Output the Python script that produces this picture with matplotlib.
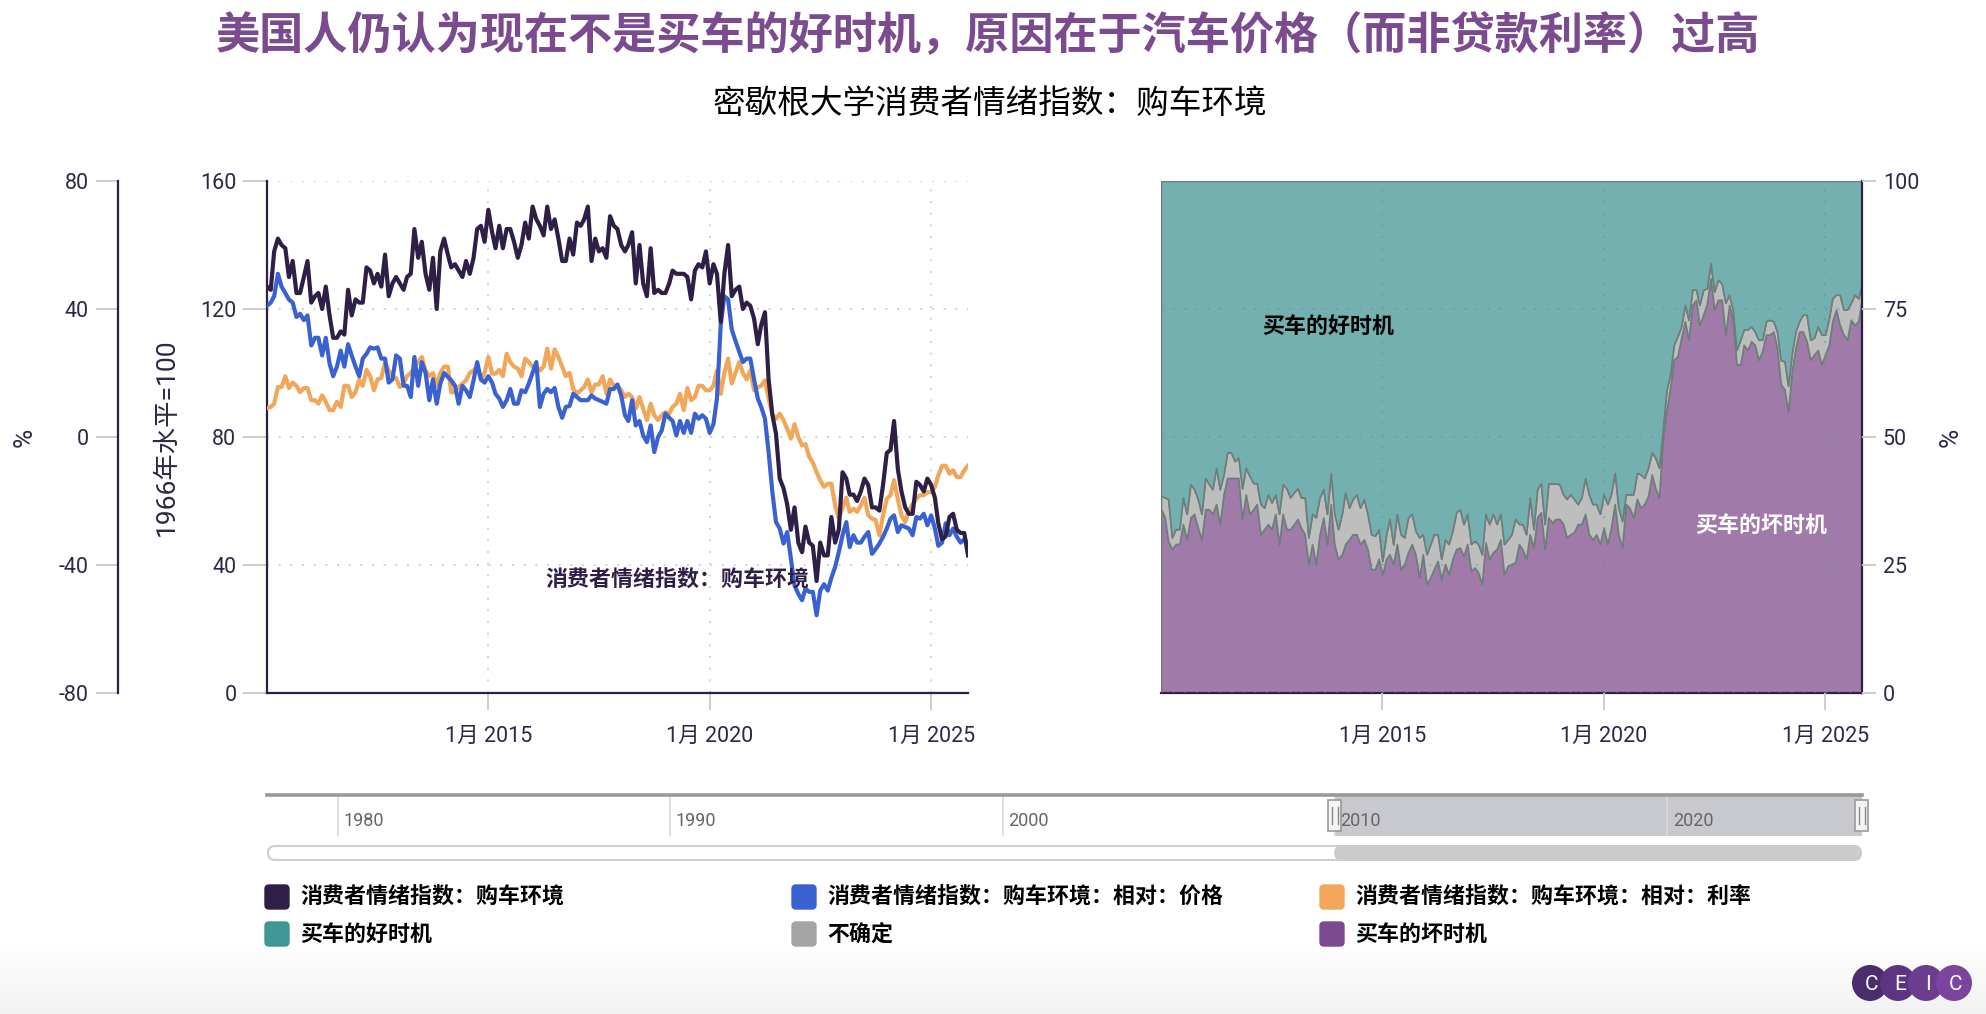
import numpy as np
import pandas as pd
import matplotlib
matplotlib.use('Agg')
import matplotlib.pyplot as plt
from matplotlib.patches import FancyBboxPatch, Rectangle, Circle

plt.rcParams['font.family'] = ['Roboto', 'Noto Sans CJK SC', 'DejaVu Sans']
plt.rcParams['axes.unicode_minus'] = False

# ---------------- data (monthly, Jan 2010 - Nov 2025) ----------------
start_month = '2010-01-01'

buying_conditions = [
    127, 126, 138, 142, 140, 139, 130, 135, 125, 125, 130, 135,
    122, 124, 125, 120, 127, 118, 111, 111, 113, 112, 126, 118,
    123, 122, 122, 133, 132, 128, 131, 127, 137, 124, 128, 130,
    128, 126, 130, 131, 145, 136, 141, 131, 126, 136, 120, 138,
    142, 137, 133, 134, 132, 130, 135, 131, 136, 145, 146, 141,
    151, 144, 139, 146, 139, 145, 145, 141, 136, 140, 147, 142,
    152, 148, 146, 143, 152, 145, 148, 142, 135, 135, 142, 137,
    147, 146, 148, 152, 135, 142, 138, 139, 136, 149, 146, 145,
    140, 138, 140, 144, 128, 140, 128, 124, 139, 125, 126, 125,
    125, 128, 132, 131, 131, 131, 130, 123, 132, 134, 133, 138,
    128, 134, 131, 116, 131, 140, 124, 126, 127, 120, 122, 121,
    117, 109, 115, 119, 98, 87, 81, 67, 64, 59, 51, 58,
    47, 44, 52, 47, 46, 35, 47, 43, 43, 55, 47, 51,
    69, 67, 62, 62, 60, 63, 67, 65, 58, 58, 57, 65,
    75, 76, 85, 70, 63, 58, 56, 56, 66, 65, 63, 67,
    65, 61, 53, 48, 49, 55, 56, 51, 50, 50, 43,
]

rel_prices = [
    121, 122, 124, 131, 127, 125, 123, 122, 117.5, 118.5, 116.5, 118,
    108.6, 111, 111, 105.5, 111, 103, 99, 102, 107, 102, 109, 105.5,
    102, 99, 104.5, 106, 108, 107.6, 108, 104.5, 104.5, 97, 98, 105.5,
    104.5, 96, 96, 92.5, 105, 96, 103.4, 100, 91.5, 98, 90.4, 96.7,
    100, 98.8, 97.7, 96, 90.4, 96, 94.6, 92.5, 97.7, 103.4, 98, 97,
    99, 97, 93.5, 92, 89.4, 91.5, 95, 90.4, 90.4, 94.6, 94, 96.7,
    100, 103.4, 89.4, 93.5, 95, 94, 95.3, 89.4, 86, 89.4, 89.7, 93.5,
    92.5, 91.5, 91.5, 91.5, 93, 92, 91.5, 91, 90.4, 95, 95, 96.4,
    93, 86.8, 85, 91.5, 83.6, 85, 80.5, 78.4, 83.6, 75.3, 80, 82,
    87.3, 86, 85, 80.5, 85, 81.3, 85, 81.3, 87.3, 85.7, 86.8, 85.7,
    81.3, 84, 92, 115, 124, 123, 113.6, 110, 106.6, 103.4, 104.5, 104.5,
    98, 92, 89.4, 85.7, 75.3, 62.8, 53.4, 51.4, 46.7, 50.3, 42, 33.6,
    31, 29, 32.6, 31.6, 31.6, 24.3, 32, 34, 32, 36, 39.4, 44,
    49.3, 53.4, 45.6, 49.3, 47, 47, 48.8, 50.3, 43.5, 45, 46.7, 48.8,
    51.4, 54.5, 55.5, 50.3, 52.4, 51.9, 51.4, 49.3, 55, 54.5, 56, 52.4,
    55.5, 51.4, 46, 47, 53, 49.3, 51.4, 48.8, 47, 48, 46.7,
]

rel_rates = [
    89, 89.4, 90.4, 95.6, 95.6, 99, 95.3, 97, 96, 94, 95.3, 95.3,
    91.5, 91.5, 90.4, 93, 91, 88.4, 88.4, 91, 89.4, 96, 96, 92.5,
    94, 98, 96, 101, 99, 94.6, 98, 98.4, 103.4, 100.8, 99, 98.4,
    95.6, 96.7, 99, 100, 102, 103.4, 105, 100.8, 99, 100, 96, 100,
    102, 102, 94, 94, 95.6, 96.7, 97.7, 100, 100.8, 102, 97.7, 100,
    105, 99.8, 99.8, 101, 99, 106, 103.4, 102, 101.4, 99, 104.5, 103.4,
    102, 102, 100.8, 102, 107.6, 101.4, 107.4, 105, 102, 99, 100, 95,
    93.5, 94.6, 95.6, 98, 94, 96.4, 96.4, 99, 93.5, 98, 96, 96,
    94.6, 92.5, 93.5, 92.5, 88.9, 92.5, 88.9, 85.3, 90.4, 86.8, 85.3, 86.8,
    87.8, 87.3, 89.4, 90.4, 93.5, 88.4, 95.3, 91.5, 92.5, 96, 96, 94.6,
    94.6, 96, 100.8, 93.5, 100, 104.5, 96.7, 100, 103.4, 100, 98, 100.8,
    94.6, 95.6, 96, 97.7, 92, 87, 85.7, 87.3, 85.3, 82.6, 79.5, 84,
    80, 77.4, 77.8, 73.8, 72, 69, 66.5, 64.4, 65.4, 65.4, 58.6, 54.5,
    58, 61, 56.6, 57.6, 56.6, 58.6, 61, 55.5, 54.5, 54, 49.3, 55.5,
    60.7, 61.8, 66.5, 60.7, 55.5, 53.4, 57, 59, 60.7, 61.8, 61.8, 62.8,
    62.8, 64.4, 68, 71, 71, 68.5, 69.6, 67.5, 67.5, 69.6, 71,
]

bad_time = [
    36, 34.3, 29.7, 28.1, 29.1, 29.1, 33, 30, 34.3, 35, 32.3, 30,
    35.9, 35.9, 35, 36.9, 33, 38.8, 42, 42, 42, 42, 34, 38.8,
    35, 35.9, 36.9, 31, 32, 33, 32, 35, 29.1, 35, 32, 32,
    33, 34, 32.3, 31, 25.2, 29.1, 25.2, 31, 34.3, 29.1, 36.9, 29.1,
    26.2, 27.1, 29.1, 30, 31, 31, 29.1, 30, 28.1, 24.2, 24.2, 26.2,
    23.2, 26.2, 27.1, 25.2, 29.1, 24.2, 25.2, 27.5, 29.1, 27.1, 22.6, 27.1,
    21.3, 22.6, 24.2, 25.8, 22.3, 25.2, 23.2, 26.2, 28.1, 28.4, 26.8, 29.1,
    23.9, 24.5, 23.6, 21.3, 29.4, 26.2, 27.5, 28.1, 30, 23.2, 24.9, 25.2,
    25.5, 29.1, 28.1, 26.2, 31, 28.4, 34.3, 35.3, 28.1, 34.3, 33.3, 34,
    34, 33, 30.4, 31, 31.4, 33, 33, 35, 31, 30, 31, 29.1,
    32.3, 29.1, 32.3, 36.9, 31, 28.4, 36.9, 36.2, 34.3, 37.9, 36.2, 36.9,
    38.5, 42.7, 40.1, 38.2, 49.2, 55, 59.6, 65.1, 65.8, 69.4, 72.6, 69,
    75.8, 76.8, 71.9, 73.9, 76, 81, 74.9, 76.8, 76.8, 70, 75.8, 72.9,
    64.2, 64.2, 68, 67, 68.7, 68, 65.1, 66.8, 70, 70, 70.6, 67.4,
    60.3, 59.3, 55, 62.9, 67.4, 70.6, 70.6, 68.7, 65.1, 66.1, 67, 64.2,
    66.1, 68, 72.6, 74.9, 71.9, 70, 69, 72.9, 71.9, 72.6, 77.1,
]

uncertain = [
    2.5, 3.9, 8.2, 2.3, 2.9, 2.9, 5.2, 5, 6.5, 4.8, 5.6, 5,
    6.1, 4.9, 4.8, 7.1, 6.8, 3.9, 5, 5, 3.3, 4, 6, 5.2,
    7.4, 5.1, 4.1, 5.9, 4.2, 5.8, 5.2, 3.8, 5.9, 5.8, 8, 6.2,
    6.2, 6, 5.9, 7.2, 5.2, 5.9, 9.1, 7.2, 5.5, 5.9, 6.1, 5.9,
    5.8, 7.9, 10.1, 6.2, 6.9, 7.8, 7.1, 7.9, 6.9, 6.8, 6.5, 5.8,
    2.6, 4.8, 6.9, 3.8, 5.9, 6.8, 5.2, 6.8, 5.9, 4.6, 7.8, 3.9,
    5.8, 6.5, 6.8, 5.2, 3.9, 4.8, 5.9, 5.5, 7.2, 7.5, 6.2, 5.9,
    5.2, 5.2, 5.5, 5.8, 5.6, 6.8, 7.5, 4.9, 5, 5.9, 5.1, 5.8,
    8.5, 3.9, 4.9, 4.8, 7.2, 3.6, 5.5, 5.7, 4.9, 6.6, 7.6, 6.9,
    6.8, 5.8, 7.5, 7.8, 6.5, 3.9, 5.2, 7, 7.8, 6.9, 5.9, 5.9,
    6.5, 7.8, 6.5, 6.1, 5.2, 5.2, 1.9, 2.6, 4.5, 5.1, 6.5, 5.1,
    5.5, 4.3, 5.9, 5.8, 2, 4, 2.6, 2.9, 3.9, 2.2, 3.2, 3.9,
    3, 2, 3.9, 4.9, 3, 3, 3.5, 3.9, 3.2, 6.2, 2, 2,
    2.8, 4.8, 3, 4, 2.9, 2.6, 3.9, 2.2, 2.6, 2.9, 2, 3.2,
    4.7, 5.5, 5, 3.5, 3.2, 2, 3.3, 5.2, 3.9, 3.3, 4.6, 5.8,
    3.9, 5.2, 4.5, 2.9, 5.9, 4.9, 5.9, 3.3, 5.9, 4.5, 2.9,
]

good_time = [
    61.5, 61.8, 62.1, 69.6, 68, 68, 61.8, 65, 59.2, 60.2, 62.1, 65,
    58, 59.2, 60.2, 56, 60.2, 57.3, 53, 53, 54.7, 54, 60, 56,
    57.6, 59, 59, 63.1, 63.8, 61.2, 62.8, 61.2, 65, 59.2, 60, 61.8,
    60.8, 60, 61.8, 61.8, 69.6, 65, 65.7, 61.8, 60.2, 65, 57, 65,
    68, 65, 60.8, 63.8, 62.1, 61.2, 63.8, 62.1, 65, 69, 69.3, 68,
    74.2, 69, 66, 71, 65, 69, 69.6, 65.7, 65, 68.3, 69.6, 69,
    72.9, 70.9, 69, 69, 73.8, 70, 70.9, 68.3, 64.7, 64.1, 67, 65,
    70.9, 70.3, 70.9, 72.9, 65, 67, 65, 67, 65, 70.9, 70, 69,
    66, 67, 67, 69, 61.8, 68, 60.2, 59, 67, 59.1, 59.1, 59.1,
    59.2, 61.2, 62.1, 61.2, 62.1, 63.1, 61.8, 58, 61.2, 63.1, 63.1, 65,
    61.2, 63.1, 61.2, 57, 63.8, 66.4, 61.2, 61.2, 61.2, 57, 57.3, 58,
    56, 53, 54, 56, 48.8, 41, 37.8, 32, 30.3, 28.4, 24.2, 27.1,
    21.2, 21.2, 24.2, 21.2, 21, 16, 21.6, 19.3, 20, 23.8, 22.2, 25.1,
    33, 31, 29, 29, 28.4, 29.4, 31, 31, 27.4, 27.1, 27.4, 29.4,
    35, 35.2, 40, 33.6, 29.4, 27.4, 26.1, 26.1, 31, 30.6, 28.4, 30,
    30, 26.8, 22.9, 22.2, 22.2, 25.1, 25.1, 23.8, 22.2, 22.9, 20,
]

line_names = ['消费者情绪指数：购车环境', '消费者情绪指数：购车环境：相对：价格',
              '消费者情绪指数：购车环境：相对：利率']
area_names = ['买车的好时机', '不确定', '买车的坏时机']

left_yticks = [0, 40, 80, 120, 160]
outer_yticks = [-80, -40, 0, 40, 80]
right_yticks = [0, 25, 50, 75, 100]
xtick_years = [2015, 2020, 2025]
nav_years = [1980, 1990, 2000, 2010, 2020]
nav_range = [1977.86, 2025.87]
nav_selected_from = 2010

title = '美国人仍认为现在不是买车的好时机，原因在于汽车价格（而非贷款利率）过高'
subtitle = '密歇根大学消费者情绪指数：购车环境'

# ---------------- styles ----------------
C_DARK = '#2E1F47'
C_BLUE = '#3A61D0'
C_ORANGE = '#F2A65A'
C_TEAL_L = '#3F9696'
C_GREY_L = '#A5A5A5'
C_PURP_L = '#7B4A8E'
C_TEAL_A = '#74B0B0'
C_GREY_A = '#BEBEBE'
C_PURP_A = '#A07AA8'
C_TXT = '#2D2846'
C_TICK = '#C8C8CE'
CJK = ['Noto Sans CJK SC', 'DejaVu Sans']

W, H = 1986, 1014
fig = plt.figure(figsize=(W / 100, H / 100), dpi=100)

# bottom background gradient (white on top, light grey at the bottom)
axg = fig.add_axes([0, 0, 1, 70 / H])
grad = np.linspace(0, 1, 70).reshape(-1, 1)
axg.imshow(grad, aspect='auto', cmap=matplotlib.colors.LinearSegmentedColormap.from_list(
    'g', ['#FFFFFF', '#F2F2F2']), extent=[0, 1, 0, 1])
axg.axis('off')

dates = pd.date_range(start_month, periods=len(buying_conditions), freq='MS')

bottom = 1 - 693 / H
height = 512 / H

# ---------------- left chart ----------------
axL = fig.add_axes([267 / W, bottom, 701 / W, height])
axL.plot(dates, rel_rates, color=C_ORANGE, lw=3.0, zorder=3)
axL.plot(dates, rel_prices, color=C_BLUE, lw=3.0, zorder=4)
axL.plot(dates, buying_conditions, color=C_DARK, lw=3.0, zorder=5)
axL.set_xlim(dates[0], dates[-1])
axL.set_ylim(left_yticks[0], left_yticks[-1])
axL.set_yticks(left_yticks)
xt = [pd.Timestamp(f'{y}-01-01') for y in xtick_years]
axL.set_xticks(xt)
axL.set_xticklabels([f'1月 {y}' for y in xtick_years])
axL.grid(True, color='#D2D2D2', linestyle=(0, (1, 5)), lw=1.4)
for s in ['top', 'right']:
    axL.spines[s].set_visible(False)
for s in ['left', 'bottom']:
    axL.spines[s].set_color(C_DARK)
    axL.spines[s].set_linewidth(1.6)
axL.tick_params(axis='y', length=17, width=1.3, color=C_TICK, pad=5,
                labelsize=15.5, labelcolor=C_TXT)
axL.tick_params(axis='x', length=12, width=1.3, color=C_TICK, pad=12,
                labelsize=15.5, labelcolor=C_TXT)
axL.text(0.586, 0.221, line_names[0], transform=axL.transAxes, ha='center', va='center',
         fontsize=15.8, fontweight='bold', color=C_DARK, family=CJK, zorder=6)

# outer % axis
axO = fig.add_axes([118 / W, bottom, 0.0004, height])
axO.set_ylim(outer_yticks[0], outer_yticks[-1])
axO.set_yticks(outer_yticks)
axO.set_xticks([])
for s in ['top', 'right', 'bottom']:
    axO.spines[s].set_visible(False)
axO.spines['left'].set_color(C_DARK)
axO.spines['left'].set_linewidth(1.6)
axO.tick_params(axis='y', length=16, width=1.3, color=C_TICK, pad=5,
                labelsize=15.5, labelcolor=C_TXT)
axO.patch.set_alpha(0)

fig.text(25 / W, 1 - 437 / H, '%', rotation=90, ha='center', va='center',
         fontsize=19, color=C_TXT)
fig.text(167 / W, 1 - 437 / H, '1966年水平=100', rotation=90, ha='center', va='center',
         fontsize=19, color=C_TXT)

# ---------------- right chart ----------------
axR = fig.add_axes([1161 / W, bottom, 701 / W, height])
axR.stackplot(dates, bad_time, uncertain, good_time,
              colors=[C_PURP_A, C_GREY_A, C_TEAL_A], edgecolor='#6F7D7D', lw=1.2)
axR.set_xlim(dates[0], dates[-1])
axR.set_ylim(right_yticks[0], right_yticks[-1])
axR.set_yticks(right_yticks)
axR.set_xticks(xt)
axR.set_xticklabels([f'1月 {y}' for y in xtick_years])
axR.set_axisbelow(False)
axR.grid(True, color='#5F8F8F', alpha=0.45, linestyle=(0, (1, 5)), lw=1.4)
axR.yaxis.tick_right()
for s in ['top', 'left']:
    axR.spines[s].set_visible(False)
for s in ['right', 'bottom']:
    axR.spines[s].set_color(C_DARK)
    axR.spines[s].set_linewidth(1.6)
axR.tick_params(axis='y', length=10, width=1.3, color=C_TICK, pad=5,
                labelsize=15.5, labelcolor=C_TXT)
axR.tick_params(axis='x', length=12, width=1.3, color=C_TICK, pad=12,
                labelsize=15.5, labelcolor=C_TXT)
axR.text(0.238, 0.715, area_names[0], transform=axR.transAxes, ha='center', va='center',
         fontsize=15.8, fontweight='bold', color='black', family=CJK)
axR.text(0.856, 0.328, area_names[2], transform=axR.transAxes, ha='center', va='center',
         fontsize=15.8, fontweight='bold', color='white', family=CJK)
fig.text(1951 / W, 1 - 437 / H, '%', rotation=90, ha='center', va='center',
         fontsize=19, color=C_TXT)

# ---------------- navigator ----------------
axN = fig.add_axes([267 / W, 1 - 836 / H, 1595 / W, 41 / H])
axN.set_xlim(nav_range)
axN.set_ylim(0, 1)
axN.axvspan(nav_selected_from, nav_range[1], color='#C8C8CF', zorder=1)
for y in nav_years:
    axN.axvline(y, color='#D9D9DD', lw=1.2, zorder=2)
    axN.text(y + 0.17, 0.36, str(y), ha='left', va='center', fontsize=13,
             color='#666666', zorder=3)
axN.axhline(1, color='#9A9A9A', lw=2.6, zorder=4, clip_on=False)
span = nav_range[1] - nav_range[0]
hw = span * 13 / 1595
for hx in [nav_selected_from, nav_range[1]]:
    axN.add_patch(Rectangle((hx - hw / 2, 0.12), hw, 0.76, facecolor='#F4F4F4',
                            edgecolor='#9A9A9A', lw=1.2, zorder=5, clip_on=False))
    for dx in (-0.25, 0.25):
        axN.plot([hx + dx * hw, hx + dx * hw], [0.3, 0.7], color='#888888', lw=1,
                 zorder=6, clip_on=False)
axN.axis('off')

# scrollbar
axS = fig.add_axes([267 / W, 1 - 861 / H, 1595 / W, 16 / H])
axS.set_xlim(0, 1595)
axS.set_ylim(0, 16)
axS.add_patch(FancyBboxPatch((1, 1), 1593, 14, boxstyle='round,pad=0,rounding_size=7',
                             facecolor='white', edgecolor='#CFCFCF', lw=1.5))
thumb_x = (nav_selected_from - nav_range[0]) / span * 1595
axS.add_patch(FancyBboxPatch((thumb_x, 1), 1594 - thumb_x, 14,
                             boxstyle='round,pad=0,rounding_size=7',
                             facecolor='#CCCCCC', edgecolor='#CCCCCC', lw=1))
axS.axis('off')

# ---------------- titles ----------------
fig.text(988 / W, 1 - 36 / H, title, ha='center', va='center', fontsize=31.8,
         fontweight='bold', color='#7B4B8F', family=CJK)
fig.text(990 / W, 1 - 104 / H, subtitle, ha='center', va='center', fontsize=23.5,
         style='italic', color='black', family=CJK)

# ---------------- legend & logo (pixel overlay) ----------------
axP = fig.add_axes([0, 0, 1, 1])
axP.set_xlim(0, W)
axP.set_ylim(H, 0)
axP.axis('off')
axP.patch.set_alpha(0)

leg_labels = line_names + area_names
leg_colors = [C_DARK, C_BLUE, C_ORANGE, C_TEAL_L, C_GREY_L, C_PURP_L]
col_x = [265, 792, 1320]
row_y = [897, 934]
for i, (lab, col) in enumerate(zip(leg_labels, leg_colors)):
    x0 = col_x[i % 3]
    y0 = row_y[i // 3]
    axP.add_patch(FancyBboxPatch((x0, y0 - 12), 24, 24, boxstyle='round,pad=0,rounding_size=4',
                                 facecolor=col, edgecolor=col, lw=1))
    axP.text(x0 + 35, y0, lab, ha='left', va='center', fontsize=15.8, fontweight='bold',
             color='black', family=CJK)

logo_cols = ['#4A2D6C', '#5C3481', '#6B3C8F', '#7A459C']
for k, (ch, c) in enumerate(zip('CEIC', logo_cols)):
    cx = 1870 + 28 * k
    axP.add_patch(Circle((cx, 983), 18, facecolor=c, edgecolor='none', zorder=10 + k))
    axP.text(cx + 2, 984, ch, ha='center', va='center', color='white', fontsize=15,
             zorder=20, family=['Roboto', 'DejaVu Sans'])

fig.savefig('out.png', dpi=100)
